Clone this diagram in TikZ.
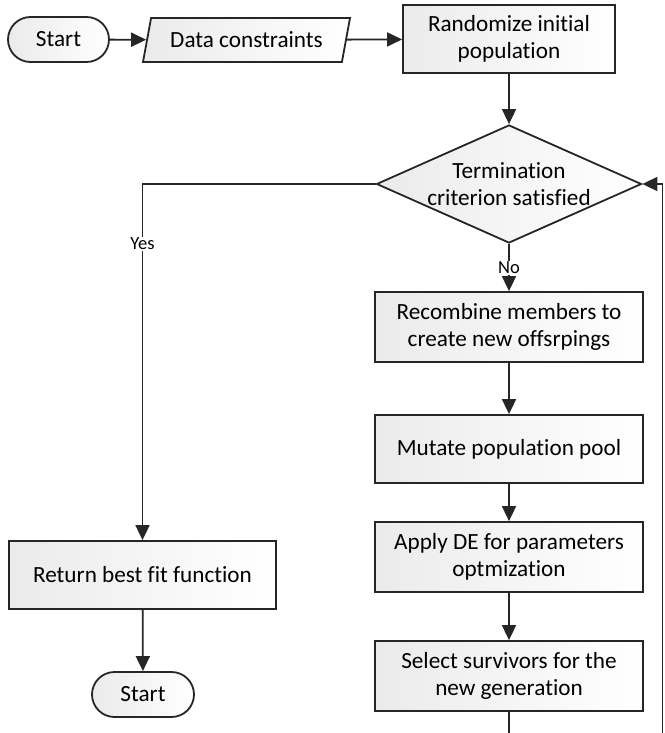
\documentclass[tikz,border=0pt]{standalone}
\usepackage{fontspec}
\setmainfont{Carlito}[Ligatures=NoCommon]
\usepackage{tikz}
\usetikzlibrary{arrows.meta, shapes.geometric, shapes.misc}

\begin{document}
\begin{tikzpicture}[x=1pt,y=1pt,yscale=-1,xscale=1,
    box/.style={draw=black!85, line width=1.8pt, left color=black!8, right color=white, align=center, inner sep=0pt, font=\fontsize{23.2}{27}\selectfont},
    terminal/.style={box, rounded rectangle, minimum width=101, minimum height=45},
    process/.style={box, rectangle, minimum height=68},
    inout/.style={box, trapezium, trapezium left angle=63.4, trapezium right angle=116.6, trapezium stretches body, minimum width=207, minimum height=44},
    decision/.style={box, diamond, aspect=2.25, minimum width=265, minimum height=118},
    flow/.style={draw=black!85, line width=1.8pt, -{Triangle[length=15pt,width=14pt]}},
    lbl/.style={fill=white, inner sep=1pt, font=\fontsize{18.5}{20}\selectfont}]

            \useasboundingbox (0,0) rectangle (664,733);
            \clip (0,0) rectangle (664,733);

            % Top row
            \node [terminal] (start) at (58.5,39.5) {Start};
            \node [inout] (data) at (246.5,40) {Data constraints};
            \node [process, minimum width=212] (randomize) at (509,39) {Randomize initial\\population};

            % Decision
            \node [decision] (termination) at (509,184) {Termination\\criterion satisfied};

            % Right column
            \node [process, minimum width=268, minimum height=70] (recombine) at (509,327) {Recombine members to\\create new offsrpings};
            \node [process, minimum width=268] (mutate) at (509,449) {Mutate population pool};
            \node [process, minimum width=268, minimum height=70] (applyde) at (509,557) {Apply DE for parameters\\optmization};
            \node [process, minimum width=268, minimum height=70] (select) at (509,676) {Select survivors for the\\new generation};

            % Left column
            \node [process, minimum width=267] (return) at (142.5,575) {Return best fit function};
            \node [terminal, minimum width=102] (stop) at (143,694.5) {Start};

            \coordinate (loopend) at (662.5,760);

            % Connectors
            \draw [flow] (start) -- (data);
            \draw [flow] (data) -- (randomize);
            \draw [flow] (randomize) -- (termination);
            \draw [flow] (termination.west) -| node [lbl, pos=0.584] {Yes} (return.north);
            \draw [flow] (termination.south) -- node [lbl] {No} (recombine.north);
            \draw [flow] (recombine) -- (mutate);
            \draw [flow] (mutate) -- (applyde);
            \draw [flow] (applyde) -- (select);
            \draw [flow] (return) -- (stop);
            \draw [flow] (select.south) |- (loopend) |- (termination.east);

\end{tikzpicture}
\end{document}
